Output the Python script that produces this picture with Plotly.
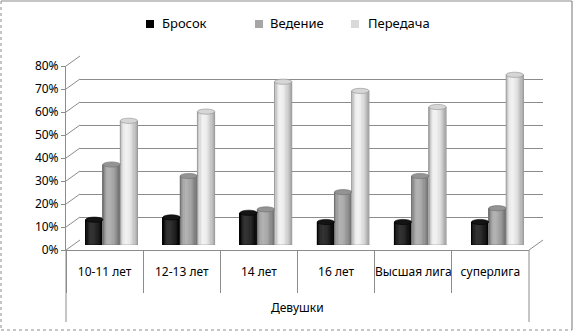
import math
import plotly.graph_objects as go

# ---- data ----
group_label = "Девушки"
categories = ["10-11 лет", "12-13 лет", "14 лет", "16 лет", "Высшая лига", "суперлига"]
series_names = ["Бросок", "Ведение", "Передача"]
brosok = [0.11, 0.12, 0.14, 0.10, 0.10, 0.10]
vedenie = [0.35, 0.30, 0.155, 0.23, 0.30, 0.16]
peredacha = [0.54, 0.58, 0.71, 0.67, 0.60, 0.74]
y_ticks = [0.0, 0.1, 0.2, 0.3, 0.4, 0.5, 0.6, 0.7, 0.8]

# ---- layout geometry (pixels) ----
W, H = 574, 332
FL, FR = 66, 529          # front floor edge, left/right
FY0, FYTOP = 250, 66      # front plane: 0% and 80%
DX, DY = 14, 10           # depth offset of the back wall
YMAX = 0.8
FONT = "Noto Sans"
GRID = "#8c8c8c"


def fx(p):
    return p / W


def fy(p):
    return 1 - p / H


def shade(edge, hi, t):
    # cylinder-like lighting: highlight at ~35% of the width
    c = t - 0.35
    k = math.cos(min(abs(c) / (0.65 if c > 0 else 0.35), 1) * math.pi / 2)
    v = edge + (hi - edge) * k
    v = int(round(max(0, min(255, v))))
    return f"rgb({v},{v},{v})"


styles = [
    dict(edge=0, hi=50, cap="#141414", outline="#000000", swatch="#000000"),
    dict(edge=112, hi=178, cap="#939393", outline="#6e6e6e", swatch="#a6a6a6"),
    dict(edge=168, hi=242, cap="#d6d6d6", outline="#909090", swatch="#d9d9d9"),
]
values = [brosok, vedenie, peredacha]

fig = go.Figure()

# back wall subplot (grid only)
fig.add_trace(go.Scatter(x=categories, y=[None] * 6, xaxis="x", yaxis="y",
                         showlegend=False, hoverinfo="skip"))

# cylinders at mid depth
K = 14
bar_w = 0.224
slot0 = -1.5 * bar_w
shapes = []
px_per_unit = (FY0 - FYTOP) / YMAX
ell = 2.6 / px_per_unit
for s, (name, vals, st) in enumerate(zip(series_names, values, styles)):
    left = slot0 + s * bar_w
    for k in range(K):
        t = (k + 0.5) / K
        fig.add_trace(go.Bar(
            x=categories, y=vals, xaxis="x2", yaxis="y2",
            width=bar_w / K + 0.002, offset=left + k * bar_w / K,
            marker=dict(color=shade(st["edge"], st["hi"], t), line=dict(width=0)),
            showlegend=False, hoverinfo="skip", name=name,
        ))
    fig.add_trace(go.Bar(
        x=categories, y=vals, xaxis="x2", yaxis="y2",
        width=bar_w, offset=left,
        marker=dict(color="rgba(0,0,0,0)", line=dict(width=0.6, color=st["outline"])),
        showlegend=False, name=name,
        hovertemplate="%{x}: %{y:.0%}<extra>" + name + "</extra>",
    ))
    for j, v in enumerate(vals):
        shapes.append(dict(type="circle", xref="x2", yref="y2", layer="below",
                           x0=j + left, x1=j + left + bar_w, y0=-ell, y1=ell,
                           fillcolor=shade(st["edge"], st["hi"], 0.5),
                           line=dict(width=0.6, color=st["outline"])))
        shapes.append(dict(type="circle", xref="x2", yref="y2", layer="above",
                           x0=j + left, x1=j + left + bar_w, y0=v - ell, y1=v + ell,
                           fillcolor=st["cap"],
                           line=dict(width=0.6, color=st["outline"])))

# front plane: value axis and category axis
fig.add_trace(go.Scatter(x=categories, y=[None] * 6, xaxis="x3", yaxis="y3",
                         showlegend=False, hoverinfo="skip"))

# side-wall gridlines and floor edge
for v in y_ticks:
    y_front = FY0 - v * px_per_unit
    shapes.append(dict(type="line", xref="paper", yref="paper",
                       x0=fx(FL), y0=fy(y_front), x1=fx(FL + DX), y1=fy(y_front - DY),
                       line=dict(color=GRID, width=1)))
shapes.append(dict(type="line", xref="paper", yref="paper",
                   x0=fx(FR), y0=fy(FY0), x1=fx(FR + DX), y1=fy(FY0 - DY),
                   line=dict(color=GRID, width=1)))

# outer lines of the category table
for xp in (FL, FR):
    shapes.append(dict(type="line", xref="paper", yref="paper",
                       x0=fx(xp), x1=fx(xp), y0=fy(FY0), y1=fy(322),
                       line=dict(color=GRID, width=1)))

# outer frame
shapes += [
    dict(type="line", xref="paper", yref="paper", x0=fx(1), x1=fx(572), y0=fy(1), y1=fy(1),
         line=dict(color="#8c8c8c", width=1.2)),
    dict(type="line", xref="paper", yref="paper", x0=fx(572), x1=fx(572), y0=fy(1), y1=fy(330),
         line=dict(color="#8c8c8c", width=1.2)),
    dict(type="line", xref="paper", yref="paper", x0=fx(1), x1=fx(1), y0=fy(1), y1=fy(330),
         line=dict(color="#8c8c8c", width=1, dash="dot")),
    dict(type="line", xref="paper", yref="paper", x0=fx(1), x1=fx(572), y0=fy(330), y1=fy(330),
         line=dict(color="#8c8c8c", width=1, dash="dot")),
]

# legend
annotations = []
legend_pos = [(150, 160), (259, 268), (355, 366)]
for (sx, tx), name, st in zip(legend_pos, series_names, styles):
    shapes.append(dict(type="rect", xref="paper", yref="paper",
                       x0=fx(sx - 4), x1=fx(sx + 4), y0=fy(28), y1=fy(20),
                       fillcolor=st["swatch"], line=dict(width=0)))
    annotations.append(dict(xref="paper", yref="paper", x=fx(tx), y=fy(23),
                            xanchor="left", yanchor="middle", showarrow=False,
                            text=name, font=dict(family=FONT, size=13, color="#000")))

annotations.append(dict(xref="paper", yref="paper", x=fx((FL + FR) / 2), y=fy(307),
                        xanchor="center", yanchor="middle", showarrow=False,
                        text=group_label, font=dict(family=FONT, size=12, color="#000")))

hidden = dict(showticklabels=False, showgrid=False, zeroline=False, showline=False, ticks="")
fig.update_layout(
    width=W, height=H, margin=dict(l=0, r=0, t=0, b=0, autoexpand=False),
    paper_bgcolor="white", plot_bgcolor="rgba(0,0,0,0)",
    barmode="overlay", showlegend=False,
    font=dict(family=FONT, size=12, color="#000"),
    xaxis=dict(domain=[fx(FL + DX), fx(FR + DX)], range=[-0.5, 5.5], anchor="y", **hidden),
    yaxis=dict(domain=[fy(FY0 - DY), fy(FYTOP - DY)], range=[0, YMAX], anchor="x",
               showgrid=True, gridcolor=GRID, gridwidth=1, tickvals=y_ticks,
               showticklabels=False, zeroline=False, showline=False, ticks=""),
    xaxis2=dict(domain=[fx(FL + DX / 2), fx(FR + DX / 2)], range=[-0.5, 5.5], anchor="y2", **hidden),
    yaxis2=dict(domain=[fy(FY0 - DY / 2), fy(FYTOP - DY / 2)], range=[0, YMAX], anchor="x2", **hidden),
    xaxis3=dict(domain=[fx(FL), fx(FR)], range=[-0.5, 5.5], anchor="y3", type="category",
                showline=True, linecolor=GRID, linewidth=1, ticks="outside", tickson="boundaries",
                ticklen=42, tickcolor=GRID, tickangle=0, ticklabelstandoff=11,
                showgrid=False, zeroline=False, automargin=False,
                tickfont=dict(family=FONT, size=12)),
    yaxis3=dict(domain=[fy(FY0), fy(FYTOP)], range=[0, YMAX], anchor="x3",
                tickvals=y_ticks, tickformat=".0%", showline=True, linecolor=GRID, linewidth=1,
                ticks="outside", ticklen=4, tickcolor=GRID, showgrid=False, zeroline=False,
                automargin=False, tickfont=dict(family=FONT, size=12)),
    shapes=shapes, annotations=annotations,
)

fig.write_html("out.html")
